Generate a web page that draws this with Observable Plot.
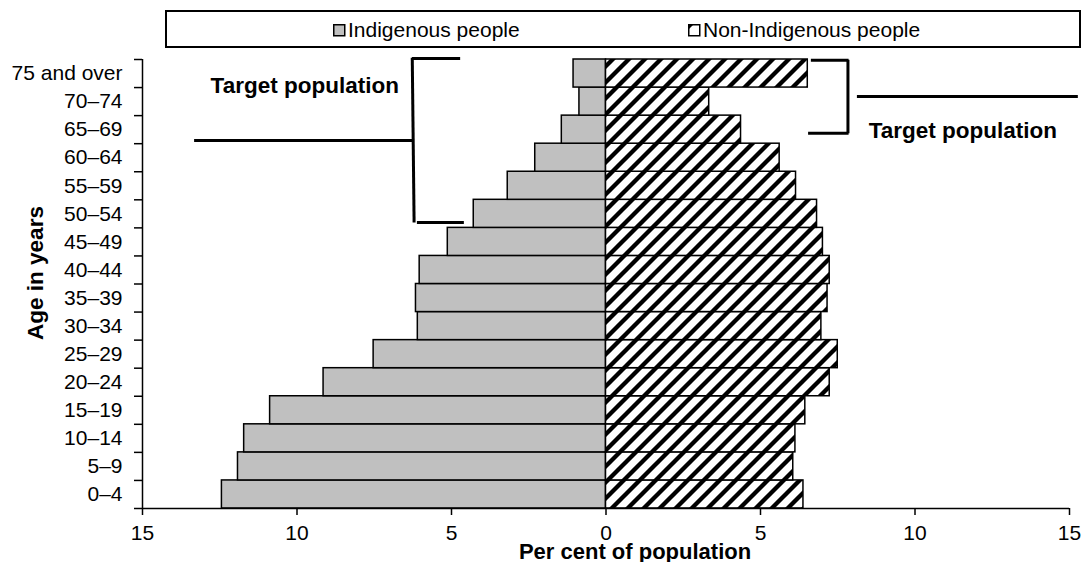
<!DOCTYPE html>
<html>
<head>
<meta charset="utf-8">
<script src="https://cdn.jsdelivr.net/npm/d3@7"></script>
<script src="https://cdn.jsdelivr.net/npm/@observablehq/plot@0.6"></script>
<style>
  html, body { margin: 0; padding: 0; background: #fff; }
  #wrap { position: relative; width: 1089px; height: 562px; font-family: "Liberation Sans", Arial, sans-serif; }
  #legend { position: absolute; left: 165px; top: 10px; width: 912px; height: 34px; border: 2px solid #000; background: #fff; z-index: 2; }
  .item { position: absolute; top: 7px; font-size: 21px; line-height: 21px; white-space: nowrap; color: #000; }
  .sw { position: absolute; top: 5px; left: 0; }
  .item span { position: absolute; left: 15px; top: 0; }
</style>
</head>
<body>
<div id="wrap">
  <div id="legend"></div>
  <div id="chart"></div>
</div>
<script>
// ---- data ----
const ageGroups = ["0–4", "5–9", "10–14", "15–19", "20–24", "25–29", "30–34", "35–39",
                   "40–44", "45–49", "50–54", "55–59", "60–64", "65–69", "70–74", "75 and over"];
const indigenous = [12.43, 11.91, 11.71, 10.87, 9.14, 7.52, 6.09, 6.15,
                    6.03, 5.12, 4.28, 3.18, 2.29, 1.43, 0.86, 1.05];
const nonIndigenous = [6.39, 6.06, 6.13, 6.45, 7.24, 7.50, 6.97, 7.17,
                       7.24, 7.02, 6.83, 6.15, 5.62, 4.37, 3.34, 6.53];
const seriesNames = ["Indigenous people", "Non-Indigenous people"];
const xTicks = [-15, -10, -5, 0, 5, 10, 15];
const xTitle = "Per cent of population";
const yTitle = "Age in years";
const annotationText = "Target population";

// annotation geometry (data units: x = per cent, y = age-group index)
const bracketSegments = [
  {x1: -4.72, y1: 16.04, x2: -6.28, y2: 16.04},
  {x1: -6.27, y1: 16.06, x2: -6.21, y2: 10.19},
  {x1: -6.12, y1: 10.19, x2: -4.60, y2: 10.19},
  {x1: -13.33, y1: 13.11, x2: -6.25, y2: 13.11},
  {x1: 6.63, y1: 15.97, x2: 7.85, y2: 15.97},
  {x1: 7.83, y1: 15.99, x2: 7.83, y2: 13.37},
  {x1: 6.54, y1: 13.37, x2: 7.85, y2: 13.37},
  {x1: 8.12, y1: 14.68, x2: 15.27, y2: 14.68}
];
const annotationLabels = [
  {x: -9.75, y: 15.07},
  {x: 11.55, y: 13.45}
];

// ---- table ----
const rows = ageGroups.map((age, i) => ({age, i, ind: indigenous[i], non: nonIndigenous[i]}));

const hatchDefs = `
<defs>
  <pattern id="hatch" patternUnits="userSpaceOnUse" width="16" height="16">
    <rect width="16" height="16" fill="#fff"/>
    <path d="M-4,4 L4,-4 M0,16 L16,0 M12,20 L20,12" stroke="#000" stroke-width="4.3" stroke-linecap="square"/>
  </pattern>
</defs>`;

const plot = Plot.plot({
  width: 1089,
  height: 562,
  marginLeft: 142,
  marginRight: 20,
  marginTop: 59,
  marginBottom: 54,
  style: {fontFamily: "'Liberation Sans', Arial, sans-serif", fontSize: "21px", color: "#000", background: "transparent", overflow: "visible"},
  x: {domain: [-15, 15]},
  y: {domain: [0, ageGroups.length]},
  marks: [
    Plot.rectX(rows, {x1: 0, x2: d => -d.ind, y1: "i", y2: d => d.i + 1, fill: "#c0c0c0", stroke: "#000", strokeWidth: 1.5}),
    Plot.rectX(rows, {x1: 0, x2: "non", y1: "i", y2: d => d.i + 1, fill: "url(#hatch)", stroke: "#000", strokeWidth: 1.5}),
    Plot.ruleY([0], {stroke: "#000", strokeWidth: 1.5}),
    Plot.ruleX([-15], {stroke: "#000", strokeWidth: 1.5}),
    Plot.axisX({ticks: xTicks, tickFormat: d => Math.abs(d), tickSize: 7, tickPadding: 10, strokeWidth: 1.5, label: null, fontSize: 21}),
    Plot.axisY({ticks: d3.range(0, ageGroups.length + 1), tickFormat: () => "", tickSize: 8, strokeWidth: 1.5, label: null}),
    Plot.axisY({ticks: rows.map(d => d.i + 0.5), tickFormat: v => ageGroups[Math.floor(v)], tickSize: 0, tickPadding: 20, label: null, fontSize: 21}),
    Plot.text([xTitle], {frameAnchor: "bottom", textAnchor: "middle", dx: 29, dy: 35, lineAnchor: "top", fontWeight: "bold", fontSize: 22}),
    Plot.text([yTitle], {frameAnchor: "left", textAnchor: "middle", dx: -107, dy: -11, rotate: -90, fontWeight: "bold", fontSize: 22.5}),
    Plot.link(bracketSegments, {x1: "x1", y1: "y1", x2: "x2", y2: "y2", stroke: "#000", strokeWidth: 3}),
    Plot.text(annotationLabels, {x: "x", y: "y", text: () => annotationText, fontWeight: "bold", fontSize: 22.5})
  ]
});
plot.insertAdjacentHTML("afterbegin", hatchDefs);
document.getElementById("chart").appendChild(plot);

// ---- legend ----
const legend = document.getElementById("legend");
const lefts = [166, 521];
seriesNames.forEach((name, k) => {
  const item = document.createElement("div");
  item.className = "item";
  item.style.left = lefts[k] + "px";
  const swatch = k === 0
    ? `<rect x="0.75" y="0.75" width="11" height="11" fill="#c0c0c0" stroke="#000" stroke-width="1.5"/>`
    : `<rect x="0.75" y="0.75" width="11" height="11" fill="#fff" stroke="#000" stroke-width="1.5"/><path d="M0,0 L6,0 L0,6 Z" fill="#000"/>`;
  item.innerHTML = `<svg class="sw" width="13" height="13">${swatch}</svg><span>${name}</span>`;
  legend.appendChild(item);
});
</script>
</body>
</html>
